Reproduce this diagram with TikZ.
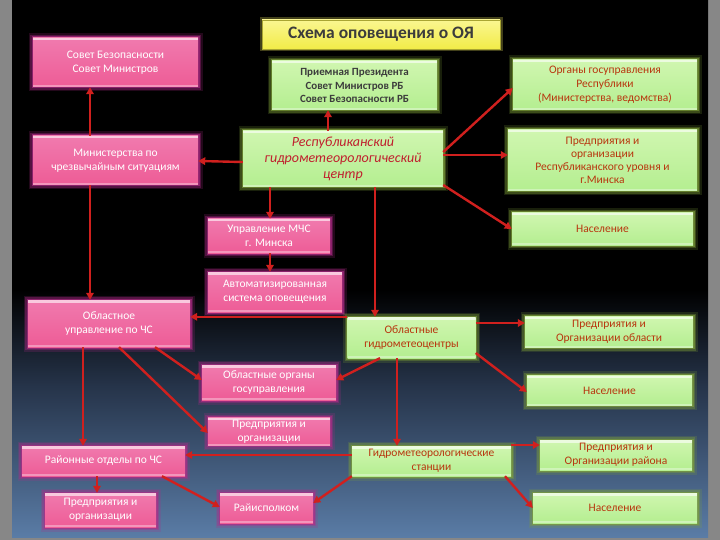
\documentclass[tikz,border=0pt]{standalone}
\usepackage{fontspec}
\setmainfont{Carlito}
\usetikzlibrary{arrows.meta}
\definecolor{graybg}{HTML}{878787}
\definecolor{bgbA}{HTML}{5A7CA6}
\definecolor{bgbB}{HTML}{26344A}
\definecolor{pinktop}{HTML}{F07AAE}
\definecolor{pinkmid}{HTML}{E8447F}
\definecolor{pinkbot}{HTML}{EE5C96}
\definecolor{pinkglow}{HTML}{B02A88}
\definecolor{greentop}{HTML}{D0F6B0}
\definecolor{greenmid}{HTML}{9EE472}
\definecolor{greenbot}{HTML}{B4EE90}
\definecolor{greenglow}{HTML}{7EA038}
\definecolor{greentext}{HTML}{B8360E}
\definecolor{darktext}{HTML}{3C3C3C}
\definecolor{rgmctext}{HTML}{C0202E}
\definecolor{arrowred}{HTML}{D0201E}
\definecolor{yellowtop}{HTML}{FAF690}
\definecolor{yellowbot}{HTML}{F2EC48}
\pgfdeclareverticalshading{bgshade}{100bp}{color(0bp)=(bgbA); color(25bp)=(bgbA); color(39bp)=(bgbB); color(48bp)=(black); color(100bp)=(black)}
\tikzset{
  box/.style={rectangle, inner sep=2pt, align=center,
    font=\fontsize{11.5}{14}\selectfont,
    path picture={
      \fill[white,opacity=0.6] (path picture bounding box.north west) rectangle ([yshift=-2.5pt]path picture bounding box.north east);
      \fill[white,opacity=0.35] (path picture bounding box.south west) rectangle ([yshift=2pt]path picture bounding box.south east);}},
  pinkbox/.style={box, top color=pinktop, middle color=pinkmid, bottom color=pinkbot, text=white,
    preaction={draw=pinkglow, line width=9pt, opacity=0.2},
    preaction={draw=pinkglow, line width=6pt, opacity=0.35},
    preaction={draw=pinkglow, line width=3pt, opacity=0.6}},
  greenbox/.style={box, top color=greentop, middle color=greenmid, bottom color=greenbot, text=greentext,
    preaction={draw=greenglow, line width=9pt, opacity=0.2},
    preaction={draw=greenglow, line width=6pt, opacity=0.35},
    preaction={draw=greenglow, line width=3pt, opacity=0.6}},
  arr/.style={draw=arrowred, line width=2.4pt, -{Triangle[length=7pt,width=7.5pt]}}
}
\begin{document}
\begin{tikzpicture}[x=1pt,y=-1pt]
\useasboundingbox (0,0) rectangle (720,540);
\fill[graybg] (0,0) rectangle (720,540);
\shade[shading=bgshade] (12,0) rectangle (708,537);

% title
\node[rectangle, top color=yellowtop, bottom color=yellowbot, draw=yellowbot!70!black, line width=0.6pt,
  preaction={draw=yellow!60!black, line width=5pt, opacity=0.4},
  minimum width=238, minimum height=29, text=darktext, font=\fontsize{17.5}{20}\bfseries\selectfont]
  (title) at (381,34.5) {Схема оповещения о ОЯ};

% pink nodes
\node[pinkbox, minimum width=165, minimum height=49] (sb) at (115.5,62.5) {Совет Безопасности\\Совет Министров};
\node[pinkbox, minimum width=165, minimum height=49] (mchs) at (115.5,160.5) {Министерства по\\чрезвычайным ситуациям};
\node[pinkbox, minimum width=122, minimum height=34] (umchs) at (269,236) {Управление МЧС\\г. Минска};
\node[pinkbox, minimum width=134, minimum height=40] (aso) at (275,292) {Автоматизированная\\система оповещения};
\node[pinkbox, minimum width=162, minimum height=47] (ouchs) at (109,323.5) {Областное\\управление по ЧС};
\node[pinkbox, minimum width=134, minimum height=35] (oog) at (269,382.5) {Областные органы\\госуправления};
\node[pinkbox, minimum width=122, minimum height=28] (pom) at (269,431.5) {Предприятия и\\организации};
\node[pinkbox, minimum width=163, minimum height=30] (ro) at (103.5,461) {Районные отделы по ЧС};
\node[pinkbox, minimum width=111, minimum height=34] (pbl) at (100.5,510) {Предприятия и\\организации};
\node[pinkbox, minimum width=93, minimum height=30] (ri) at (266.5,508) {Райисполком};

% green nodes
\node[greenbox, minimum width=165, minimum height=49, text=darktext, font=\fontsize{11}{13.5}\bfseries\selectfont] (pp) at (354.5,85.5) {Приемная Президента\\Совет Министров РБ\\Совет Безопасности РБ};
\node[greenbox, minimum width=184, minimum height=50] (og) at (605,85) {Органы госуправления\\Республики\\(Министерства, ведомства)};
\node[greenbox, minimum width=200, minimum height=56, text=rgmctext, font=\fontsize{14}{16}\itshape\selectfont] (rgmc) at (343,159) {Республиканский\\гидрометеорологический\\центр};
\node[greenbox, minimum width=189, minimum height=61, font=\fontsize{11.5}{13.2}\selectfont] (pr) at (602.5,160.5) {Предприятия и\\организации\\Республиканского уровня и\\г.Минска};
\node[greenbox, minimum width=181, minimum height=32] (nas1) at (602.5,229) {Население};
\node[greenbox, minimum width=128, minimum height=41] (ogmc) at (411.5,337.5) {Областные\\гидрометеоцентры};
\node[greenbox, minimum width=168, minimum height=31] (pro) at (609,332) {Предприятия и\\Организации области};
\node[greenbox, minimum width=165, minimum height=30] (nas2) at (609.5,390.5) {Население};
\node[greenbox, minimum width=159, minimum height=30] (gms) at (431.5,461) {Гидрометеорологические\\станции};
\node[greenbox, minimum width=152, minimum height=30] (prr) at (616,455) {Предприятия и\\Организации района};
\node[greenbox, minimum width=164, minimum height=30] (nas3) at (615,508) {Население};

% arrows
\draw[arr] (mchs.north -| 90,0) -- (sb.south -| 90,0);
\draw[arr] (rgmc.west |- 0,162) -- (mchs.east |- 0,161);
\draw[arr] (rgmc.north -| 328,0) -- (pp.south -| 328,0);
\draw[arr] (rgmc.east |- 0,152) -- (og.west |- 0,88);
\draw[arr] (rgmc.east |- 0,155) -- (pr.west |- 0,155);
\draw[arr] (rgmc.east |- 0,185) -- (nas1.west |- 0,229);
\draw[arr] (rgmc.south -| 270,0) -- (umchs.north -| 270,0);
\draw[arr] (umchs.south -| 270,0) -- (aso.north -| 270,0);
\draw[arr] (rgmc.south -| 375,0) -- (ogmc.north -| 375,0);
\draw[arr] (mchs.south -| 90,0) -- (ouchs.north -| 90,0);
\draw[arr] (ogmc.north west) -- (ogmc.north west -| ouchs.east);
\draw[arr] (ogmc.east |- 0,323) -- (pro.west |- 0,323);
\draw[arr] (ogmc.east |- 0,353) -- (nas2.west |- 0,392);
\draw[arr] (ogmc.south -| 380,0) -- (oog.east |- 0,380);
\draw[arr] (ogmc.south -| 397,0) -- (gms.north -| 397,0);
\draw[arr] (ouchs.south -| 155,0) -- (oog.west |- 0,380);
\draw[arr] (ouchs.south -| 119,0) -- (pom.west |- 0,433);
\draw[arr] (ouchs.south -| 83,0) -- (ro.north -| 83,0);
\draw[arr] (gms.west |- 0,455) -- (ro.east |- 0,455);
\draw[arr] (gms.east |- 0,445) -- (prr.west |- 0,445);
\draw[arr] (gms.south -| 505,0) -- (nas3.west |- 0,508);
\draw[arr] (gms.south west) -- (ri.east |- 0,503);
\draw[arr] (ro.south -| 97,0) -- (pbl.north -| 97,0);
\draw[arr] (ro.south -| 162,0) -- (ri.west |- 0,507);
\end{tikzpicture}
\end{document}
